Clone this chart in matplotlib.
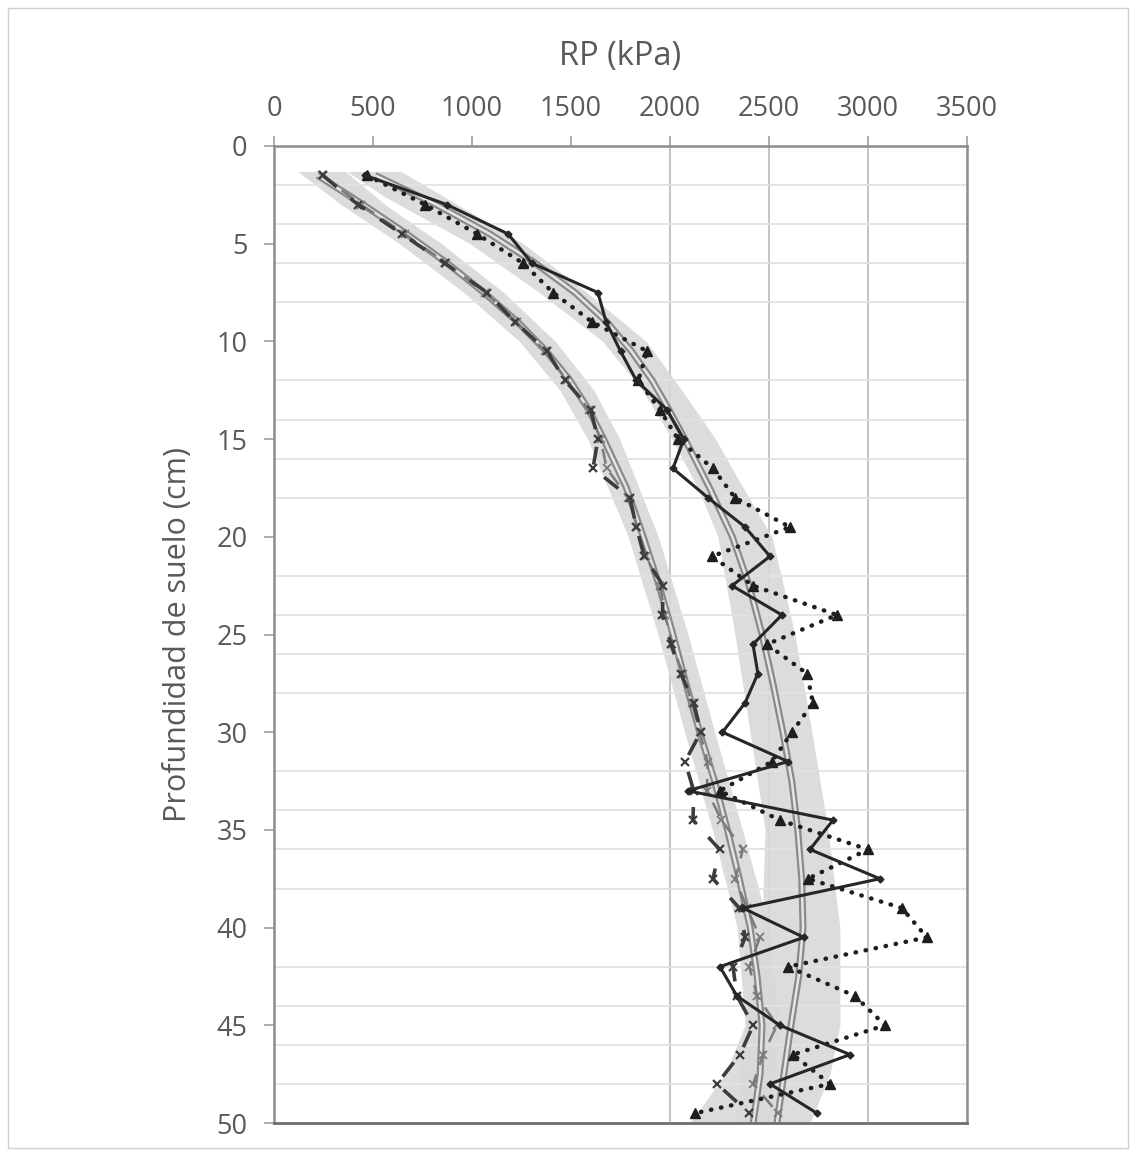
import numpy as np
import matplotlib
matplotlib.use('Agg')
import matplotlib.pyplot as plt
from matplotlib.patches import Rectangle

plt.rcParams['font.family'] = ['Open Sans', 'DejaVu Sans']

# profundidad de los datos (cm)
depth = [1.5, 3, 4.5, 6, 7.5, 9, 10.5, 12, 13.5, 15, 16.5, 18, 19.5, 21, 22.5, 24,
         25.5, 27, 28.5, 30, 31.5, 33, 34.5, 36, 37.5, 39, 40.5, 42, 43.5, 45,
         46.5, 48, 49.5]

# grupo derecho
rp_solid = [460, 873, 1182, 1303, 1636, 1677, 1750, 1830, 1985, 2070, 2015, 2192,
            2379, 2505, 2313, 2565, 2419, 2444, 2379, 2265, 2596, 2091, 2823, 2707,
            3060, 2368, 2676, 2252, 2338, 2555, 2909, 2505, 2742]
rp_dotted = [470, 763, 1025, 1258, 1409, 1606, 1884, 1840, 1949, 2040, 2217, 2328,
             2606, 2212, 2419, 2843, 2490, 2692, 2722, 2616, 2515, 2252, 2555, 3000,
             2697, 3171, 3297, 2596, 2934, 3086, 2621, 2808, 2126]

# grupo izquierdo
rp_dash_dark = [247, 424, 646, 863, 1076, 1217, 1379, 1470, 1600, 1636, 1611, 1798,
                1830, 1870, 1965, 1962, 2005, 2055, 2120, 2155, 2076, 2120, 2116, 2250,
                2217, 2350, 2380, 2318, 2338, 2420, 2353, 2237, 2400]
rp_dash_gray = [240, 440, 660, 870, 1065, 1225, 1370, 1480, 1590, 1650, 1680, 1790,
                1835, 1880, 1950, 1975, 2010, 2065, 2110, 2151, 2190, 2187, 2260, 2368,
                2330, 2389, 2454, 2400, 2440, 2540, 2470, 2420, 2545]

# lineas de tendencia
fit_depth = [1.5, 3, 4.5, 6, 7.5, 9, 10.5, 12, 13.5, 15, 17.5, 20, 22.5, 25, 27.5,
             30, 32.5, 35, 37.5, 40, 42.5, 45, 47.5, 50]
fit_right = [510, 820, 1090, 1320, 1520, 1680, 1805, 1910, 1995, 2075, 2200, 2315,
             2400, 2465, 2520, 2570, 2615, 2645, 2665, 2672, 2650, 2611, 2575, 2540]
fit_left = [220, 450, 670, 875, 1060, 1230, 1375, 1495, 1590, 1665, 1780, 1865,
            1945, 2015, 2080, 2150, 2225, 2290, 2350, 2405, 2440, 2465, 2455, 2420]

# bandas grises
band_r_depth = [1.3, 2.6, 5, 7.5, 10, 12.5, 15, 17.5, 20, 25, 30, 35, 40, 45, 47.5, 50]
band_r_lo = [369, 560, 990, 1340, 1660, 1860, 2010, 2140, 2242, 2328, 2404, 2480,
             2464, 2379, 2278, 2101]
band_r_hi = [640, 860, 1260, 1580, 1880, 2060, 2230, 2370, 2515, 2631, 2717, 2798,
             2858, 2858, 2808, 2707]
band_l_depth = [1.3, 3, 5, 7.5, 10, 12.5, 15, 20, 25, 30, 35, 40, 45, 50]
band_l_lo = [120, 339, 634, 959, 1239, 1444, 1584, 1789, 1939, 2074, 2214, 2339, 2379, 2329]
band_l_hi = [360, 561, 846, 1161, 1421, 1616, 1746, 1941, 2091, 2226, 2366, 2501, 2551, 2511]

xticks = [0, 500, 1000, 1500, 2000, 2500, 3000, 3500]
yticks = [0, 5, 10, 15, 20, 25, 30, 35, 40, 45, 50]

fig = plt.figure(figsize=(11.36, 11.56), dpi=100)
ax = fig.add_axes([274/1136, 1-1123/1156, 693/1136, 977/1156])

fig.patches.append(Rectangle((8/1136, 8/1156), 1120/1136, 1140/1156,
                             transform=fig.transFigure, fill=False,
                             edgecolor='#d0d0d0', lw=1))

# rejilla
ax.set_yticks(np.arange(2, 51, 2), minor=True)
ax.grid(which='minor', axis='y', color='#dde3e8', lw=1.3, zorder=0)
for g in [2000, 2500, 3000]:
    ax.axvline(g, color='#c4c4c4', lw=1.4, zorder=0)

# bandas
ax.fill_betweenx(band_r_depth, band_r_lo, band_r_hi, color='#d9d9d9', alpha=0.9,
                 lw=0, zorder=1)
ax.fill_betweenx(band_l_depth, band_l_lo, band_l_hi, color='#d9d9d9', alpha=0.9,
                 lw=0, zorder=1)

# tendencias (linea doble)
for f in [fit_left, fit_right]:
    ax.plot(f, fit_depth, color='#8a8a8a', lw=5, zorder=2, solid_capstyle='butt')
    ax.plot(f, fit_depth, color='#e4e4e4', lw=1.8, zorder=2.1, solid_capstyle='butt')

# series
ax.plot(rp_dash_gray, depth, color='#7a7a7a', lw=1.8, ls=(0, (6, 4)),
        marker='x', ms=6, mew=1.3, zorder=3)
ax.plot(rp_dash_dark, depth, color='#3c3c3c', lw=2.6, ls=(0, (5, 5)),
        marker='x', ms=6, mew=1.6, zorder=3.2)
ax.plot(rp_dotted, depth, color='#1e1e1e', lw=3.2, ls=(0, (0.1, 2.2)),
        dash_capstyle='round', marker='^', ms=7, zorder=3.4)
ax.plot(rp_solid, depth, color='#262626', lw=2.2, marker='D', ms=3.5, zorder=3.6)

ax.set_xlim(0, 3500)
ax.set_ylim(50, 0)
ax.xaxis.tick_top()
ax.xaxis.set_label_position('top')
ax.set_xticks(xticks)
ax.set_yticks(yticks)
ax.tick_params(which='major', direction='out', length=7, width=1.3, color='#a6a6a6',
               labelcolor='#595959', labelsize=19.5)
ax.tick_params(axis='x', pad=9.5)
ax.tick_params(axis='y', pad=12)
ax.tick_params(which='minor', length=0)

for s in ['top', 'left', 'right']:
    ax.spines[s].set_color('#8c8c8c')
    ax.spines[s].set_linewidth(1.8)
ax.spines['bottom'].set_color('#6e6e6e')
ax.spines['bottom'].set_linewidth(2)

ax.set_xlabel('RP (kPa)', fontsize=23.5, color='#595959', labelpad=22)
ax.set_ylabel('Profundidad de suelo (cm)', fontsize=22, color='#595959', labelpad=17)

fig.savefig('out.png', dpi=100)
